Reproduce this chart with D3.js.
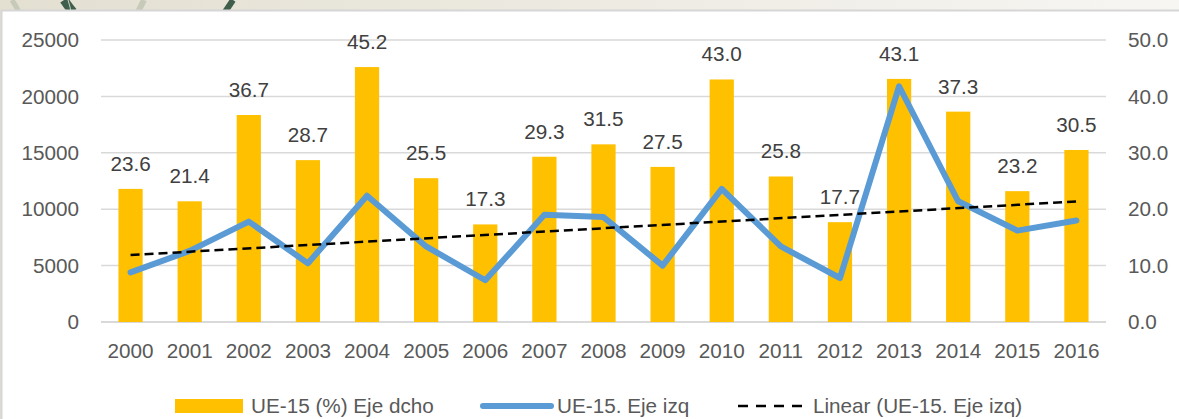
<!DOCTYPE html>
<html>
<head>
<meta charset="utf-8">
<script src="https://cdn.jsdelivr.net/npm/d3@7"></script>
<style>
  html, body { margin: 0; padding: 0; background: #ffffff; }
  #chart text { font-family: "Liberation Sans", Arial, sans-serif; }
</style>
</head>
<body>
<div id="chart"></div>
<script>
// Data
const years = ["2000", "2001", "2002", "2003", "2004", "2005", "2006", "2007", "2008",
  "2009", "2010", "2011", "2012", "2013", "2014", "2015", "2016"];
// UE-15 (%) - right axis, bars
const pctValues = [23.6, 21.4, 36.7, 28.7, 45.2, 25.5, 17.3, 29.3, 31.5, 27.5, 43.0, 25.8, 17.7, 43.1, 37.3, 23.2, 30.5];
// UE-15 - left axis, line
const lineValues = [4400, 6300, 8900, 5200, 11200, 6700, 3700, 9500, 9300, 5000, 11800, 6700, 3900, 20900, 10700, 8100, 9000];
const leftTicks = [0, 5000, 10000, 15000, 20000, 25000];
const rightTicks = [0, 10, 20, 30, 40, 50];
const legendLabels = ["UE-15 (%) Eje dcho", "UE-15. Eje izq", "Linear (UE-15. Eje izq)"];

const width = 1179;
const height = 419;
const margin = { top: 40, right: 73, bottom: 97, left: 101 };

const BAR_COLOR = "#FFC000";
const LINE_COLOR = "#5B9BD5";
const AXIS_TEXT = "#595959";
const LABEL_TEXT = "#404040";
const GRID = "#d9d9d9";
const FONT_SIZE = "20.7px";

const svg = d3.select("#chart").append("svg")
  .attr("width", width)
  .attr("height", height);

drawBackground(svg);

// Scales
const x = d3.scaleBand()
  .domain(years)
  .range([margin.left, width - margin.right])
  .paddingInner(0.59)
  .paddingOuter(0.295);

const yLeft = d3.scaleLinear()
  .domain([0, 25000])
  .range([height - margin.bottom, margin.top]);

const yRight = d3.scaleLinear()
  .domain([0, 50])
  .range([height - margin.bottom, margin.top]);

const cx = d => x(d) + x.bandwidth() / 2;

// Gridlines
svg.append("g")
  .selectAll("line")
  .data(leftTicks)
  .join("line")
  .attr("x1", margin.left)
  .attr("x2", width - margin.right)
  .attr("y1", d => yLeft(d))
  .attr("y2", d => yLeft(d))
  .attr("stroke", GRID)
  .attr("stroke-width", d => d === 0 ? 2 : 1.5);

// Left axis
const leftAxis = svg.append("g")
  .attr("transform", "translate(" + (margin.left - 22) + ",0)")
  .call(d3.axisLeft(yLeft).tickValues(leftTicks).tickSize(0).tickPadding(0).tickFormat(d3.format("d")));
styleAxis(leftAxis);

// Right axis
const rightAxis = svg.append("g")
  .attr("transform", "translate(" + (width - margin.right + 22) + ",0)")
  .call(d3.axisRight(yRight).tickValues(rightTicks).tickSize(0).tickPadding(0).tickFormat(d3.format(".1f")));
styleAxis(rightAxis);

// Bottom axis (years)
const bottomAxis = svg.append("g")
  .attr("transform", "translate(0," + (height - margin.bottom) + ")")
  .call(d3.axisBottom(x).tickSize(0).tickPadding(21));
styleAxis(bottomAxis);
bottomAxis.selectAll("text").attr("dy", "0.71em");

// Bars
svg.append("g")
  .selectAll("rect")
  .data(years)
  .join("rect")
  .attr("x", d => x(d))
  .attr("width", x.bandwidth())
  .attr("y", (d, i) => yRight(pctValues[i]))
  .attr("height", (d, i) => yRight(0) - yRight(pctValues[i]))
  .attr("fill", BAR_COLOR);

// Bar labels
svg.append("g")
  .selectAll("text")
  .data(years)
  .join("text")
  .attr("x", d => cx(d))
  .attr("y", (d, i) => yRight(pctValues[i]) - 18)
  .attr("text-anchor", "middle")
  .attr("fill", LABEL_TEXT)
  .style("font-size", FONT_SIZE)
  .text((d, i) => pctValues[i].toFixed(1));

// Line
const line = d3.line()
  .x((d, i) => cx(years[i]))
  .y(d => yLeft(d));

svg.append("path")
  .datum(lineValues)
  .attr("d", line)
  .attr("fill", "none")
  .attr("stroke", LINE_COLOR)
  .attr("stroke-width", 6)
  .attr("stroke-linejoin", "round")
  .attr("stroke-linecap", "round");

// Linear trend of the line series (least squares)
const trend = linearFit(lineValues);
svg.append("line")
  .attr("x1", cx(years[0]))
  .attr("x2", cx(years[years.length - 1]))
  .attr("y1", yLeft(trend.a))
  .attr("y2", yLeft(trend.a + trend.b * (years.length - 1)))
  .attr("stroke", "#000")
  .attr("stroke-width", 2.5)
  .attr("stroke-dasharray", "9,5");

drawLegend(svg);

function styleAxis(g) {
  g.select(".domain").remove();
  g.selectAll("text")
    .attr("fill", AXIS_TEXT)
    .style("font-size", FONT_SIZE)
    .style("font-family", "'Liberation Sans', Arial, sans-serif");
}

function linearFit(values) {
  const n = values.length;
  const mx = (n - 1) / 2;
  const my = d3.mean(values);
  let num = 0, den = 0;
  values.forEach((v, i) => {
    num += (i - mx) * (v - my);
    den += (i - mx) * (i - mx);
  });
  const b = num / den;
  return { a: my - b * mx, b: b };
}

function drawLegend(svg) {
  const ly = 406;
  const legend = svg.append("g").attr("class", "legend");

  legend.append("rect")
    .attr("x", 175).attr("y", 399)
    .attr("width", 68).attr("height", 14)
    .attr("fill", BAR_COLOR);

  legend.append("line")
    .attr("x1", 483).attr("x2", 551)
    .attr("y1", ly).attr("y2", ly)
    .attr("stroke", LINE_COLOR)
    .attr("stroke-width", 6)
    .attr("stroke-linecap", "round");

  legend.append("line")
    .attr("x1", 738).attr("x2", 802)
    .attr("y1", ly).attr("y2", ly)
    .attr("stroke", "#000")
    .attr("stroke-width", 2.5)
    .attr("stroke-dasharray", "10,8");

  const textX = [251, 557, 813];
  legend.selectAll("text")
    .data(legendLabels)
    .join("text")
    .attr("x", (d, i) => textX[i])
    .attr("y", 413)
    .attr("fill", AXIS_TEXT)
    .style("font-size", FONT_SIZE)
    .text(d => d);
}

function drawBackground(svg) {
  const defs = svg.append("defs");
  const grad = defs.append("linearGradient")
    .attr("id", "topStrip")
    .attr("x1", "0%").attr("x2", "100%");
  grad.append("stop").attr("offset", "0%").attr("stop-color", "#e3dfd1");
  grad.append("stop").attr("offset", "45%").attr("stop-color", "#ece9e0");
  grad.append("stop").attr("offset", "100%").attr("stop-color", "#f7f6f3");

  svg.append("rect")
    .attr("width", width).attr("height", height)
    .attr("fill", "url(#topStrip)");

  // decorative strokes peeking above the panel
  const deco = svg.append("g");
  deco.append("path").attr("d", "M12,0 Q16,6 19,12").attr("stroke", "#c7cab9").attr("stroke-width", 5).attr("fill", "none");
  deco.append("path").attr("d", "M64,0 Q68,6 73,12").attr("stroke", "#3f5e4b").attr("stroke-width", 9).attr("fill", "none");
  deco.append("path").attr("d", "M68,0 Q70,6 71,12").attr("stroke", "#c9d2c8").attr("stroke-width", 1).attr("fill", "none");
  deco.append("path").attr("d", "M144,0 Q141,6 138,12").attr("stroke", "#c7cab9").attr("stroke-width", 6).attr("fill", "none");
  deco.append("path").attr("d", "M233,0 Q229,6 225,12").attr("stroke", "#3f5e4b").attr("stroke-width", 6).attr("fill", "none");

  // white panel
  svg.append("rect")
    .attr("x", 1.5).attr("y", 10.5)
    .attr("width", width).attr("height", height)
    .attr("fill", "#ffffff")
    .attr("stroke", "#d6d6d6")
    .attr("stroke-width", 2);
}
</script>
</body>
</html>
